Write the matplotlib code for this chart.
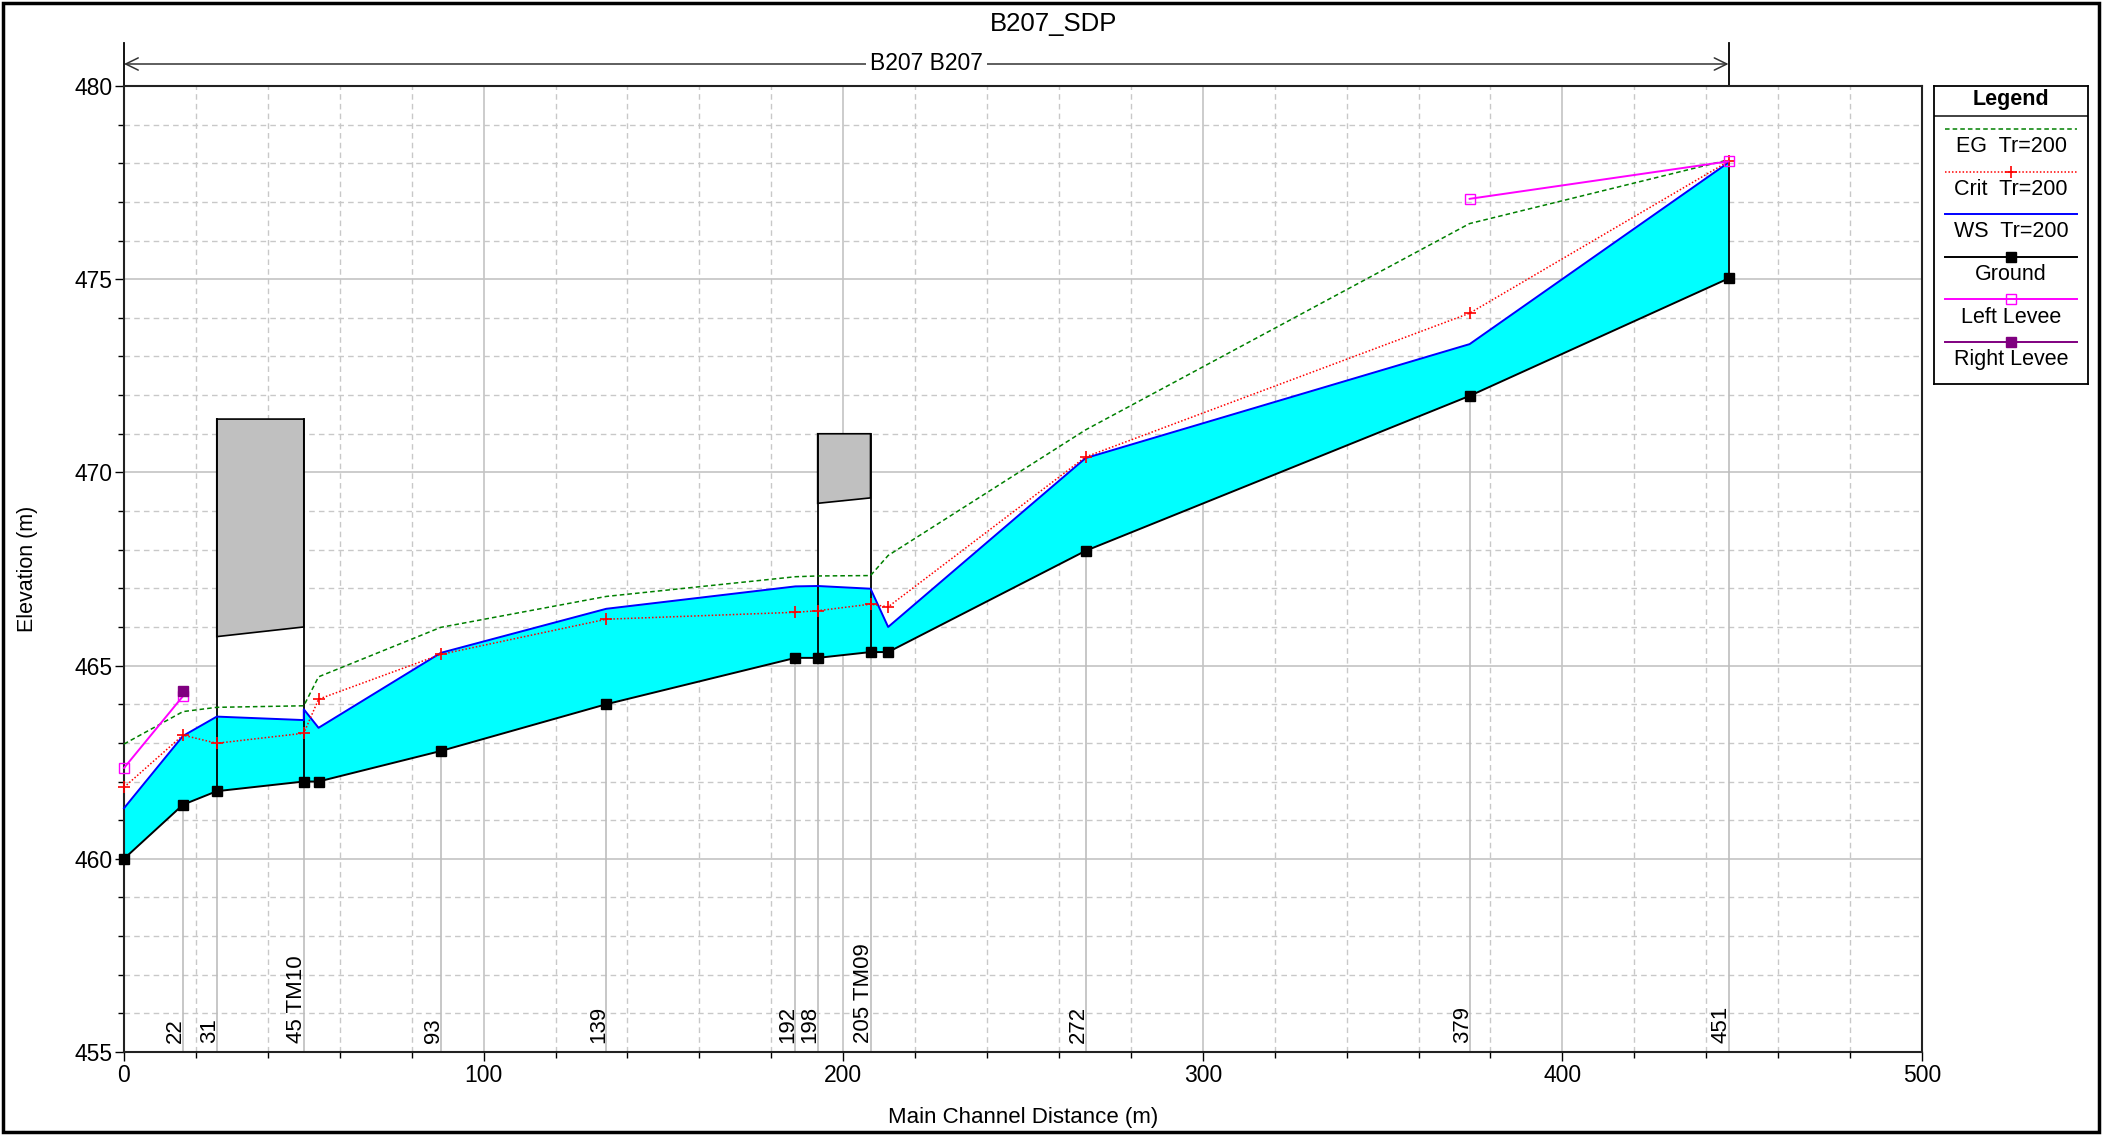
import numpy as np
import matplotlib
matplotlib.use("Agg")
import matplotlib.pyplot as plt
from matplotlib.patches import Rectangle
from matplotlib.ticker import MultipleLocator
import matplotlib.transforms as mtransforms

plt.rcParams['font.family'] = ['Liberation Sans', 'DejaVu Sans']

# ---------------- data ----------------
title = "B207_SDP"
reach_label = "B207 B207"

# main channel distance of each cross section (m) and its river-station label
dist = [0.0, 16.4, 25.8, 50.0, 54.1, 88.1, 134.1, 186.7, 192.9, 207.6, 212.5, 267.4, 374.2, 446.2]
rs_labels = ["", "22", "31", "45 TM10", "", "93", "139", "192", "198", "205 TM09", "", "272", "379", "451"]

ground = [460.00, 461.40, 461.75, 462.00, 462.00, 462.79, 464.00, 465.20, 465.20, 465.35, 465.35, 467.97, 471.98, 475.02]
eg = [462.97, 463.81, 463.92, 463.96, 464.71, 465.99, 466.79, 467.30, 467.32, 467.33, 467.85, 471.10, 476.44, 478.09]
crit = [461.85, 463.20, 462.99, 463.25, 464.13, 465.29, 466.20, 466.38, 466.42, 466.59, 466.52, 470.40, 474.12, 478.05]

# water surface (the bridge face at 50 m carries two values)
ws_dist = [0.0, 16.4, 25.8, 50.0, 50.0, 54.1, 88.1, 134.1, 186.7, 192.9, 207.6, 212.5, 267.4, 374.2, 446.2]
ws_elev = [461.31, 463.18, 463.68, 463.59, 463.87, 463.39, 465.33, 466.47, 467.05, 467.06, 466.99, 466.00, 470.37, 473.32, 478.02]

left_levee_dist = [0.0, 16.4, np.nan, 374.2, 446.2]
left_levee_elev = [462.35, 464.21, np.nan, 477.08, 478.05]
right_levee_dist = [16.4]
right_levee_elev = [464.34]

# bridges: upstream/downstream face distances, deck top, low chord at each face
bridge_left = [25.8, 192.9]
bridge_right = [50.0, 207.6]
bridge_top = [471.38, 471.00]
bridge_low_left = [465.75, 469.20]
bridge_low_right = [466.00, 469.34]

# ---------------- styles ----------------
styles = {
    "EG  Tr=200": dict(color="#008000", lw=1.1, ls=(0, (3, 2)), marker=None),
    "Crit  Tr=200": dict(color="#ff0000", lw=1.1, ls=(0, (1, 1.3)), marker="+", ms=8, mew=1.2),
    "WS  Tr=200": dict(color="#0000ff", lw=1.4, ls="-", marker=None),
    "Ground": dict(color="black", lw=1.4, ls="-", marker="s", ms=6.5, mfc="black", mec="black"),
    "Left Levee": dict(color="#ff00ff", lw=1.4, ls="-", marker="s", ms=6.5, mfc="none", mec="#ff00ff", mew=1.0),
    "Right Levee": dict(color="#800080", lw=1.4, ls="-", marker="s", ms=6.5, mfc="#800080", mec="#800080"),
}

FS = 16.5
W, H = 2107, 1137
fig = plt.figure(figsize=(W / 100, H / 100), dpi=100)
ax = fig.add_axes([124 / W, 1 - 1052 / H, (1922 - 124) / W, (1052 - 86) / H])

ax.set_xlim(0, 500)
ax.set_ylim(455, 480)
ax.xaxis.set_major_locator(MultipleLocator(100))
ax.xaxis.set_minor_locator(MultipleLocator(20))
ax.yaxis.set_major_locator(MultipleLocator(5))
ax.yaxis.set_minor_locator(MultipleLocator(1))
ax.set_axisbelow(True)
ax.grid(which="major", color="#c4c4c4", lw=1.2, ls="-")
ax.grid(which="minor", color="#c8c8c8", lw=1.0, ls=(0, (4, 3)))
ax.tick_params(which="major", direction="out", length=6.5, width=1.0, labelsize=FS, pad=2)
ax.tick_params(which="minor", direction="out", length=4, width=1.0)
for sp in ax.spines.values():
    sp.set_linewidth(1.5)
    sp.set_color("#222222")

# section lines from the axis bottom up to the ground
for d, g, lab in zip(dist, ground, rs_labels):
    if lab:
        ax.plot([d, d], [455, g], color="#bdbdbd", lw=1.2, zorder=1)
        ax.annotate(lab, xy=(d, 455), xytext=(3, 9), textcoords="offset pixels",
                    rotation=90, ha="right", va="bottom", fontsize=16, zorder=6)

# bridge openings (white), decks (grey) and bridge sides
for bl, br, bt, lcl, lcr in zip(bridge_left, bridge_right, bridge_top, bridge_low_left, bridge_low_right):
    gl = np.interp(bl, dist, ground)
    gr = np.interp(br, dist, ground)
    ax.fill_between([bl, br], [gl, gr], [lcl, lcr], color="white", lw=0, zorder=1.5)
    ax.fill([bl, br, br, bl], [lcl, lcr, bt, bt], facecolor="#c0c0c0", edgecolor="black", lw=1.2, zorder=4)
    ax.plot([bl, bl], [gl, bt], color="black", lw=1.3, zorder=4)
    ax.plot([br, br], [gr, bt], color="black", lw=1.3, zorder=4)

# flow area between ground and water surface
poly_x = np.concatenate([ws_dist, dist[::-1]])
poly_y = np.concatenate([ws_elev, ground[::-1]])
ax.fill(poly_x, poly_y, facecolor="#00ffff", edgecolor="none", zorder=2)
ax.plot([dist[-1], dist[-1]], [ground[-1], ws_elev[-1]], color="black", lw=1.3, zorder=3)

def draw(x, y, name, z):
    s = dict(styles[name])
    kw = dict(color=s.pop("color"), lw=s.pop("lw"), ls=s.pop("ls"))
    m = s.pop("marker")
    if m:
        kw.update(marker=m, **s)
    ax.plot(x, y, zorder=z, clip_on=False, **kw)

draw(dist, eg, "EG  Tr=200", 5)
draw(dist, crit, "Crit  Tr=200", 5)
draw(ws_dist, ws_elev, "WS  Tr=200", 4.5)
draw(dist, ground, "Ground", 5)
draw(left_levee_dist, left_levee_elev, "Left Levee", 5.5)
draw(right_levee_dist, right_levee_elev, "Right Levee", 5.6)

# reach extent annotation above the plot
trans = mtransforms.blended_transform_factory(ax.transData, ax.transAxes)
y_arrow = 1 + 22 / 966
y_top = 1 + 43 / 966
ax.annotate("", xy=(dist[0], y_arrow), xycoords=trans, xytext=(dist[-1], y_arrow), textcoords=trans,
            arrowprops=dict(arrowstyle="<->, head_length=0.45, head_width=0.22", color="#333333",
                            lw=1.1, shrinkA=0, shrinkB=0, mutation_scale=20),
            annotation_clip=False)
for d in (dist[0], dist[-1]):
    ax.plot([d, d], [1.0, y_top], transform=trans, color="black", lw=1.3, clip_on=False)
ax.text((dist[0] + dist[-1]) / 2, y_arrow, reach_label, transform=trans, ha="center", va="center",
        fontsize=FS, bbox=dict(facecolor="white", edgecolor="none", pad=3), clip_on=False)

ax.set_xlabel("Main Channel Distance (m)", fontsize=16, va="center")
ax.xaxis.set_label_coords(0.5, -(1117 - 1052) / 966)
ax.set_ylabel("Elevation (m)", fontsize=15.5, va="center")
ax.yaxis.set_label_coords(-(124 - 27) / 1798, 0.5)
fig.text(0.5, 1 - 24 / H, title, ha="center", va="center", fontsize=18.5)

# legend panel
lx0, lx1, ly0, ly1 = 1934.3, 2087.7, 85.7, 384.0
lax = fig.add_axes([lx0 / W, 1 - ly1 / H, (lx1 - lx0) / W, (ly1 - ly0) / H])
lax.set_xlim(0, lx1 - lx0)
lax.set_ylim(ly1 - ly0, 0)
lax.set_xticks([])
lax.set_yticks([])
for sp in lax.spines.values():
    sp.set_linewidth(1.3)
lax.text((lx1 - lx0) / 2, 14, "Legend", ha="center", va="center", fontsize=15.5, fontweight="bold")
lax.axhline(30, color="#333333", lw=1.3)
cx = (lx1 - lx0) / 2
for i, name in enumerate(styles):
    yl = 43.3 + 42.6 * i
    yt = 61.0 + 42.6 * i
    s = dict(styles[name])
    lax.plot([10.7, 142.4], [yl, yl], color=s["color"], lw=s["lw"], ls=s["ls"])
    if s["marker"]:
        lax.plot([cx], [yl], ls="none", marker=s["marker"], ms=s.get("ms", 6), color=s["color"],
                 mfc=s.get("mfc", s["color"]), mec=s.get("mec", s["color"]), mew=s.get("mew", 1.0))
    lax.text(cx, yt, name, ha="center", va="center", fontsize=15.5)

# outer frame
fig.patches.append(Rectangle((3.3 / W, 1 - 1132 / H), (2099 - 3.3) / W, (1132 - 2.5) / H,
                             transform=fig.transFigure, fill=False, lw=2.5, edgecolor="black"))

fig.savefig("out.png", dpi=100, facecolor="white")
